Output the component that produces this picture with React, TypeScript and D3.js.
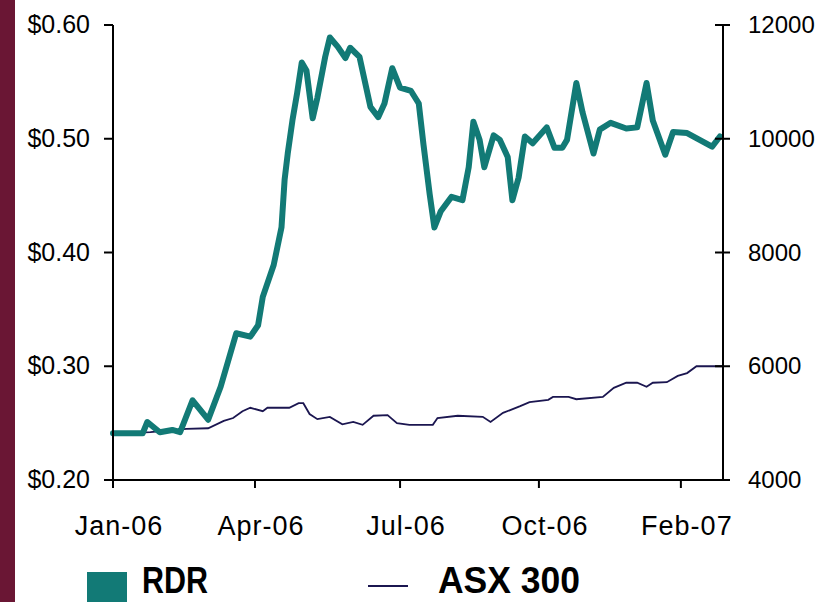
import React from 'react';
import * as d3 from 'd3';

// RDR share price (left axis), day offsets from start of Jan-06
const rdrDays = [0, 19, 22, 30, 38, 43, 51, 61, 69, 79, 88, 93, 96, 103, 108, 110, 112, 115, 118, 121, 124, 128, 131, 136, 139, 144, 149, 152, 158, 165, 170, 174, 179, 184, 191, 196, 199, 203, 206, 210, 217, 224, 228, 231, 235, 238, 244, 248, 253, 256, 260, 264, 269, 278, 283, 288, 291, 297, 301, 308, 312, 319, 329, 336, 342, 346, 354, 359, 368, 376, 384, 389];
const rdrPrice = [0.241, 0.241, 0.251, 0.242, 0.244, 0.242, 0.270, 0.253, 0.282, 0.329, 0.326, 0.336, 0.361, 0.389, 0.422, 0.464, 0.487, 0.516, 0.540, 0.567, 0.560, 0.518, 0.536, 0.572, 0.589, 0.581, 0.571, 0.580, 0.572, 0.528, 0.519, 0.531, 0.562, 0.545, 0.542, 0.531, 0.495, 0.451, 0.422, 0.436, 0.449, 0.446, 0.475, 0.515, 0.499, 0.475, 0.503, 0.499, 0.484, 0.446, 0.466, 0.502, 0.496, 0.510, 0.492, 0.492, 0.499, 0.549, 0.523, 0.487, 0.508, 0.514, 0.509, 0.510, 0.549, 0.516, 0.486, 0.506, 0.505, 0.499, 0.493, 0.502];

// ASX 300 index (right axis)
const asxDays = [0, 24, 47, 61, 71, 77, 83, 88, 96, 99, 113, 119, 122, 126, 131, 139, 147, 154, 160, 167, 176, 182, 190, 205, 208, 221, 237, 242, 250, 261, 267, 279, 282, 292, 297, 314, 321, 329, 336, 342, 346, 355, 362, 368, 374, 391];
const asxValue = [4810, 4840, 4900, 4910, 5040, 5090, 5210, 5270, 5210, 5270, 5270, 5350, 5350, 5160, 5070, 5110, 4980, 5020, 4970, 5130, 5140, 5000, 4970, 4970, 5090, 5130, 5110, 5020, 5180, 5300, 5370, 5410, 5460, 5460, 5420, 5460, 5620, 5710, 5710, 5640, 5710, 5720, 5830, 5880, 6000, 6000];

const xTickDays = [0, 91, 184, 273, 364];
const xTickLabels = ['Jan-06', 'Apr-06', 'Jul-06', 'Oct-06', 'Feb-07'];
const leftTicks = [0.2, 0.3, 0.4, 0.5, 0.6];
const rightTicks = [4000, 6000, 8000, 10000, 12000];

const WIDTH = 830;
const HEIGHT = 602;
const margin = { top: 25, right: 107, bottom: 122, left: 113 };
const font = '"Liberation Sans", Arial, sans-serif';
const teal = '#127a76';
const navy = '#1b1650';

export default function App() {
    const x = d3.scaleLinear()
        .domain([0, 391])
        .range([margin.left, WIDTH - margin.right]);
    const yLeft = d3.scaleLinear()
        .domain([0.2, 0.6])
        .range([HEIGHT - margin.bottom, margin.top]);
    const yRight = d3.scaleLinear()
        .domain([4000, 12000])
        .range([HEIGHT - margin.bottom, margin.top]);

    const rdr = rdrDays.map((d, i) => ({ day: d, v: rdrPrice[i] }));
    const asx = asxDays.map((d, i) => ({ day: d, v: asxValue[i] }));

    const rdrLine = d3.line<{ day: number; v: number }>()
        .x(d => x(d.day))
        .y(d => yLeft(d.v));
    const asxLine = d3.line<{ day: number; v: number }>()
        .x(d => x(d.day))
        .y(d => yRight(d.v));

    const x0 = x.range()[0];
    const x1 = x.range()[1];
    const yBase = yLeft.range()[0];
    const yTop = yLeft.range()[1];

    return (
        <svg width={WIDTH} height={HEIGHT} style={{ position: 'absolute', left: 0, top: 0, background: '#fff' }}>
            <rect x={0} y={0} width={WIDTH} height={HEIGHT} fill="#fff" />
            {/* slide border on the left */}
            <rect x={0} y={0} width={15} height={HEIGHT} fill="#6a1634" />

            {/* series */}
            <path d={asxLine(asx) || ''} fill="none" stroke={navy} strokeWidth={1.8} />
            <path d={rdrLine(rdr) || ''} fill="none" stroke={teal} strokeWidth={6} strokeLinejoin="round" strokeLinecap="round" />

            {/* axes */}
            <line x1={x0} x2={x0} y1={yTop} y2={yBase} stroke="#000" strokeWidth={2} />
            <line x1={x1} x2={x1} y1={yTop} y2={yBase} stroke="#000" strokeWidth={2} />
            <line x1={x0 - 9} x2={x1 + 6} y1={yBase} y2={yBase} stroke="#000" strokeWidth={2} />

            {leftTicks.map(t => (
                <g key={t}>
                    <line x1={x0 - 9} x2={x0} y1={yLeft(t)} y2={yLeft(t)} stroke="#000" strokeWidth={2} />
                    <text x={90} y={yLeft(t) + 8} textAnchor="end" fontFamily={font} fontSize={25} fill="#000">
                        {'$' + t.toFixed(2)}
                    </text>
                </g>
            ))}

            {rightTicks.map(t => (
                <g key={t}>
                    <line x1={x1 - 8} x2={x1 + 7} y1={yRight(t)} y2={yRight(t)} stroke="#000" strokeWidth={2} />
                    <text x={748} y={yRight(t) + 8} fontFamily={font} fontSize={24} fill="#000">
                        {t}
                    </text>
                </g>
            ))}

            {xTickDays.map((d, i) => (
                <g key={d}>
                    <line x1={x(d)} x2={x(d)} y1={yBase} y2={yBase + 8} stroke="#000" strokeWidth={2} />
                    <text x={x(d) + 6} y={yBase + 55} textAnchor="middle" fontFamily={font} fontSize={27} letterSpacing={1} fill="#000">
                        {xTickLabels[i]}
                    </text>
                </g>
            ))}

            {/* legend */}
            <rect x={87} y={572} width={40} height={30} fill={teal} />
            <text x={142} y={593} fontFamily={font} fontSize={37} fontWeight="bold" textLength={66} lengthAdjust="spacingAndGlyphs" fill="#000">RDR</text>
            <line x1={368} x2={408} y1={586} y2={586} stroke={navy} strokeWidth={2} />
            <text x={438} y={593} fontFamily={font} fontSize={37} fontWeight="bold" textLength={142} lengthAdjust="spacingAndGlyphs" fill="#000">ASX 300</text>
        </svg>
    );
}
